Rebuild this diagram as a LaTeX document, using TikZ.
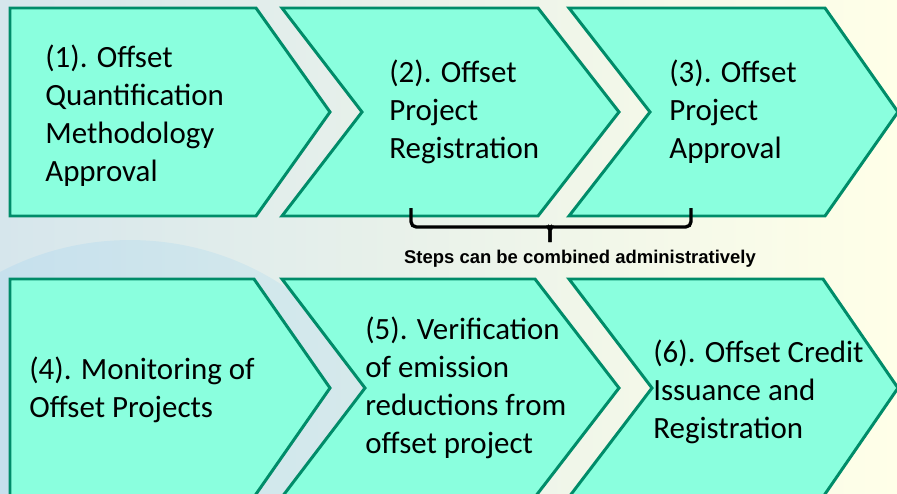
\documentclass[tikz,border=0pt]{standalone}
\usepackage{fontspec}
\setmainfont{Carlito}
\newfontfamily\notefont{Liberation Sans}
\usepackage{tikz}
\usetikzlibrary{calc}

\definecolor{chevfill}{RGB}{138,255,222}
\definecolor{chevline}{RGB}{0,140,105}
\definecolor{bgleft}{RGB}{214,230,236}
\definecolor{bgright}{RGB}{255,255,232}

\tikzset{
  chev/.style={fill=chevfill,draw=chevline,line width=1.7pt,line join=miter},
  steptext/.style={anchor=base west,inner sep=0pt,align=left,
    font=\fontsize{17.6}{21.6}\selectfont},
  bracket/.style={line width=1.9pt,rounded corners=3pt},
  notetext/.style={anchor=base,inner sep=0pt,
    font=\notefont\bfseries\fontsize{10.5}{12}\selectfont}
}

\begin{document}
\begin{tikzpicture}[x=0.02cm,y=-0.02cm]
\useasboundingbox (0,0) rectangle (897,494);
\clip (0,0) rectangle (897,494);
% background
\shade[left color=bgleft,right color=bgright] (0,0) rectangle (897,494);
\fill[blue!40!cyan,opacity=0.07] (130,520) circle (5.6cm);
% top row
\draw[chev] (10,8)--(256,8)--(330,112)--(256,216)--(10,216)--cycle;
\draw[chev] (282,8)--(538,8)--(619,112)--(538,216)--(282,216)--(362,112)--cycle;
\draw[chev] (569,8)--(825,8)--(898,112)--(825,216)--(569,216)--(650,112)--cycle;
% bottom row
\draw[chev] (10,279)--(254,279)--(330,388)--(254,497)--(10,497)--cycle;
\draw[chev] (282,279)--(535,279)--(619,388)--(535,497)--(282,497)--(365,388)--cycle;
\draw[chev] (569,279)--(823,279)--(898,388)--(823,497)--(569,497)--(652,388)--cycle;
% step labels (placed at the baseline of the last line)
\node[steptext] (step1) at (45,181) {(1). Offset\\Quantification\\Methodology\\Approval};
\node[steptext] (step2) at (389,158) {(2). Offset\\Project\\Registration};
\node[steptext] (step3) at (669,158) {(3). Offset\\Project\\Approval};
\node[steptext] (step4) at (29,417) {(4). Monitoring of\\Offset Projects};
\node[steptext] (step5) at (365,453) {(5). Verification\\of emission\\reductions from\\offset project};
\node[steptext] (step6) at (653,438) {(6). Offset Credit\\Issuance and\\Registration};
% brace under steps 2 and 3
\coordinate (brl) at (411,208);
\coordinate (brr) at (691,208);
\coordinate (brtip) at (550,242);
\draw[bracket] (brl) |- (544,227) to[out=0,in=90] (550,234) -- (brtip);
\draw[bracket] (brtip) -- (550,234) to[out=90,in=180] (556,227) -| (brr);
\node[notetext] (combine) at (580,263) {Steps can be combined administratively};
\end{tikzpicture}
\end{document}
